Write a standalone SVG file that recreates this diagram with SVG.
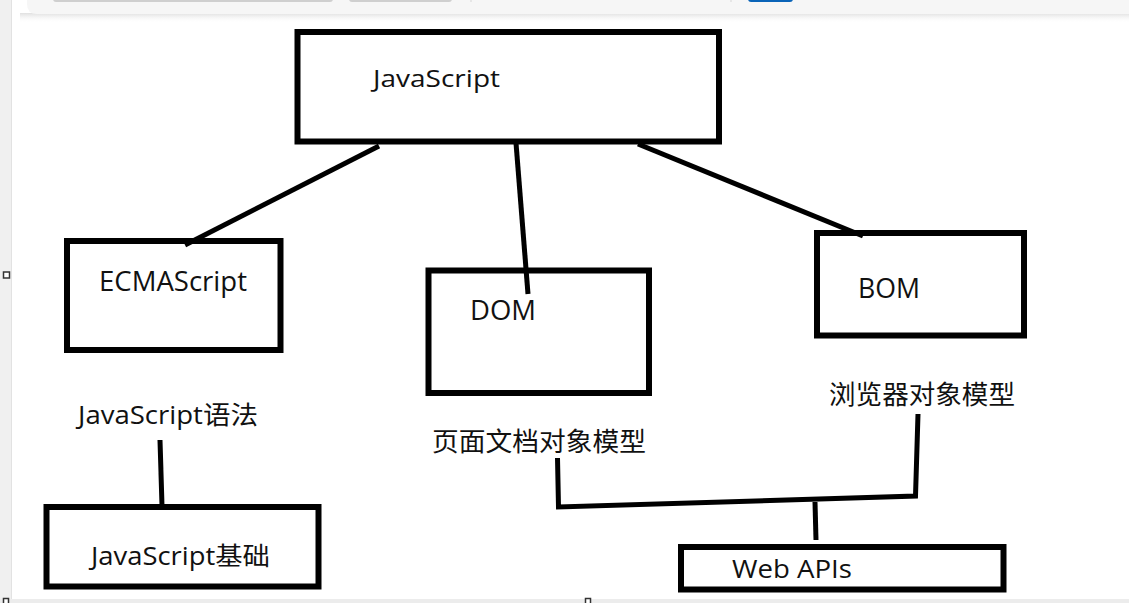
<svg xmlns="http://www.w3.org/2000/svg" width="1129" height="603" viewBox="0 0 1129 603">
<defs>
<linearGradient id="shadow" x1="0" y1="0" x2="0" y2="1">
<stop offset="0" stop-color="#dcdcdc" stop-opacity="0.9"/>
<stop offset="1" stop-color="#ffffff" stop-opacity="0"/>
</linearGradient>
</defs>
<style>
.box{fill:none;stroke:#000;stroke-width:6}
.ln{fill:none;stroke:#000;stroke-width:5;stroke-linecap:butt;stroke-linejoin:miter}
.t{font-family:"Open Sans","Noto Sans CJK SC",sans-serif;fill:#111}
.cjk{font-family:"Noto Sans CJK SC","Noto Sans",sans-serif;fill:#111}
.handle{fill:#fff;stroke:#333;stroke-width:1.5}
</style>
<rect width="1129" height="603" fill="#fff"/>
<g id="chrome">
<rect x="0" y="0" width="11" height="603" fill="#f0f0f0"/>
<line x1="11.5" y1="0" x2="11.5" y2="603" stroke="#e2e2e2" stroke-width="1"/>
<rect x="20" y="13" width="1109" height="10" fill="url(#shadow)"/>
<path d="M27 0 H1129 V14 H37 Q27 14 27 4 Z" fill="#f6f6f6"/>
<rect x="53" y="-4" width="280" height="6" rx="3" fill="#cfcfcf"/>
<rect x="349" y="-4" width="103" height="6" rx="3" fill="#cfcfcf"/>
<line x1="471" y1="0" x2="471" y2="2" stroke="#d6d6d6"/>
<line x1="731" y1="0" x2="731" y2="2" stroke="#d6d6d6"/>
<rect x="748" y="-4" width="45" height="6" rx="3" fill="#0a64b8"/>
<rect x="0" y="599" width="1129" height="4" fill="#ececec"/>
<rect x="3.5" y="272" width="6" height="6" class="handle"/>
<rect x="3.5" y="598.5" width="5" height="6" class="handle"/>
<rect x="585.5" y="598.5" width="5" height="6" class="handle"/>
</g>
<g id="connectors">
<line class="ln" x1="379" y1="146" x2="185" y2="245"/>
<line class="ln" x1="516" y1="143" x2="528" y2="294"/>
<line class="ln" x1="638" y1="144" x2="863" y2="236"/>
<line class="ln" x1="160" y1="440" x2="162" y2="506"/>
<polyline class="ln" points="557.5,458 558.5,507 915.5,496 918,414"/>
<line class="ln" x1="815" y1="502" x2="816" y2="540"/>
</g>
<g id="javascript">
<rect class="box" x="297.5" y="32" width="421.5" height="109.5"/>
<text class="t" x="373" y="87" font-size="23" textLength="127" lengthAdjust="spacingAndGlyphs">JavaScript</text>
</g>
<g id="ecmascript">
<rect class="box" x="67" y="241" width="213.5" height="109"/>
<text class="t" x="99" y="291" font-size="27" textLength="148" lengthAdjust="spacingAndGlyphs">ECMAScript</text>
</g>
<g id="dom">
<rect class="box" x="428.5" y="270.5" width="220.5" height="122.5"/>
<text class="t" x="470" y="320" font-size="27" textLength="66" lengthAdjust="spacingAndGlyphs">DOM</text>
</g>
<g id="bom">
<rect class="box" x="817" y="233" width="207" height="102.5"/>
<text class="t" x="858" y="298" font-size="27" textLength="62" lengthAdjust="spacingAndGlyphs">BOM</text>
</g>
<g id="js-syntax">
<text class="t" x="78" y="424" font-size="25" textLength="180" lengthAdjust="spacingAndGlyphs">JavaScript语法</text>
</g>
<g id="js-basics">
<rect class="box" x="46.5" y="507" width="272" height="79.5"/>
<text class="t" x="91" y="565" font-size="25" textLength="179" lengthAdjust="spacingAndGlyphs">JavaScript基础</text>
</g>
<g id="dom-desc">
<text class="cjk" x="432" y="451" font-size="26" textLength="214" lengthAdjust="spacingAndGlyphs">页面文档对象模型</text>
</g>
<g id="bom-desc">
<text class="cjk" x="829" y="404" font-size="26" textLength="186" lengthAdjust="spacingAndGlyphs">浏览器对象模型</text>
</g>
<g id="webapis">
<rect class="box" x="681" y="547" width="322.5" height="42.5"/>
<text class="t" x="732" y="578" font-size="26" textLength="120" lengthAdjust="spacingAndGlyphs">Web APIs</text>
</g>
</svg>
